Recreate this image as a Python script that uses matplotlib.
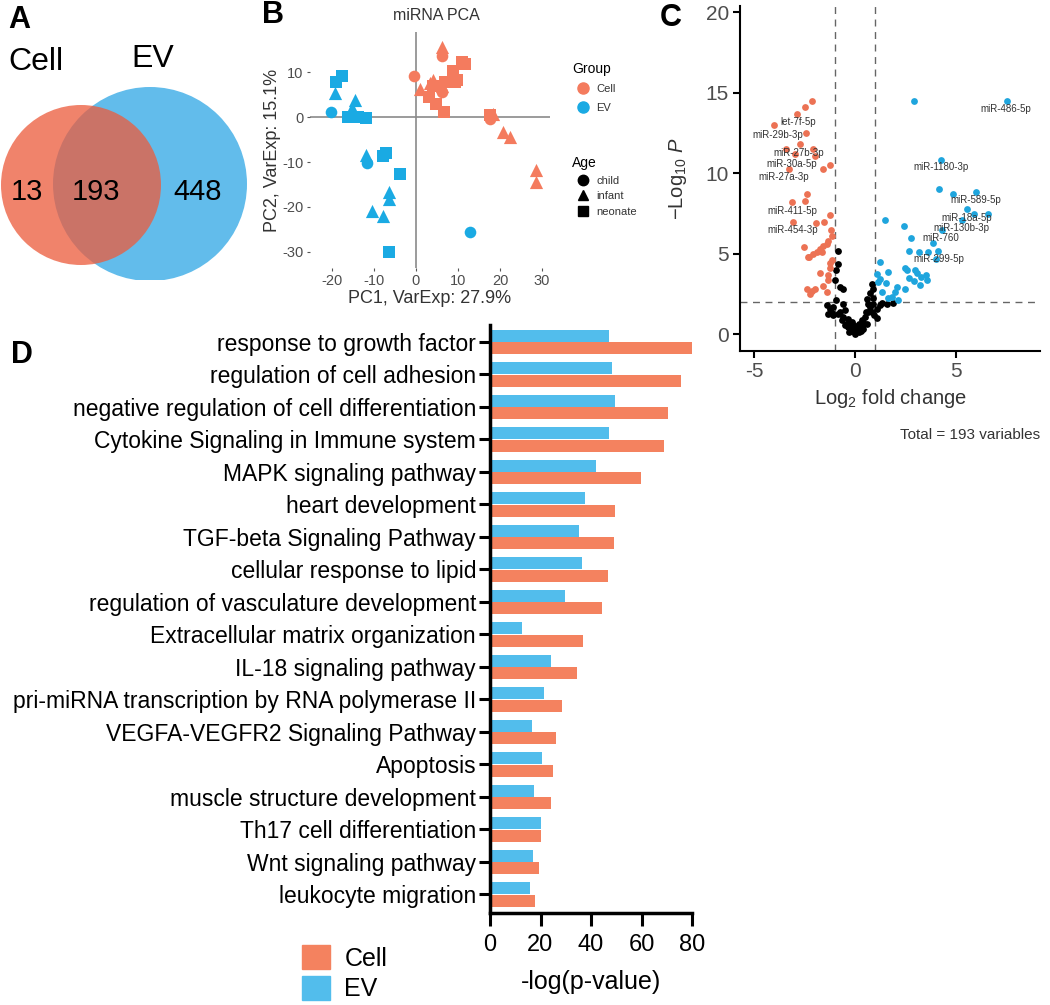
import matplotlib
matplotlib.use("Agg")
import matplotlib.pyplot as plt
from matplotlib.patches import Circle, Patch
from matplotlib.lines import Line2D
import numpy as np

plt.rcParams['font.family'] = ['Liberation Sans', 'DejaVu Sans']
plt.rcParams['mathtext.fontset'] = 'custom'
plt.rcParams['mathtext.rm'] = 'Liberation Sans'
plt.rcParams['mathtext.it'] = 'Liberation Sans:italic'
plt.rcParams['axes.unicode_minus'] = False

# ---- data ----
venn_sets = ['Cell', 'EV']
venn_counts = [13, 193, 448]          # cell only, shared, EV only

pca_cell_x = [-0.5, 1.0, 3.3, 6.1, 6.3, 4.1, 8.9, 10.9, 11.7, 9.3, 7.0, 6.3, 3.2,
              4.8, 6.7, 6.3, 8.3, 9.8, 4.0, 17.6, 18.4, 17.6, 20.8, 22.4, 28.6, 28.6]
pca_cell_y = [9.1, 6.4, 7.6, 15.6, 13.6, 8.2, 10.4, 12.3, 11.9, 7.8, 7.8, 5.6, 4.5,
              3.0, 1.1, 6.9, 8.9, 8.2, 6.9, -0.3, 0.8, 0.4, -3.3, -4.4, -11.8, -14.4]
pca_cell_age = ['child', 'infant', 'infant', 'infant', 'child', 'infant', 'neonate',
                'neonate', 'neonate', 'neonate', 'neonate', 'child', 'neonate',
                'neonate', 'neonate', 'infant', 'infant', 'neonate', 'neonate',
                'child', 'infant', 'neonate', 'infant', 'infant', 'infant', 'infant']
pca_ev_x = [-17.5, -18.9, -19.2, -20.3, -14.5, -15.3, -16.1, -13.7, -11.9, -11.8,
            -11.6, -7.1, -7.8, -3.9, -6.3, -6.5, -10.4, -7.8, -6.4, 12.9]
pca_ev_y = [9.1, 7.9, 5.3, 1.2, 3.8, 2.0, 0.0, 0.0, -0.2, -8.4,
            -10.1, -8.0, -8.7, -12.7, -16.6, -18.3, -20.8, -22.0, -30.1, -25.5]
pca_ev_age = ['neonate', 'neonate', 'infant', 'child', 'infant', 'infant', 'neonate',
              'neonate', 'neonate', 'infant', 'child', 'neonate', 'neonate', 'neonate',
              'infant', 'infant', 'infant', 'infant', 'neonate', 'child']

volc_down_x = [-2.14, -2.48, -2.86, -4.04, -2.44, -3.41, -2.75, -2.09, -3.00, -1.98, -3.27,
               -1.57, -1.24, -2.36, -2.48, -3.14, -1.26, -3.06, -1.94, -1.53, -1.17, -2.51,
               -2.28, -2.06, -1.73, -1.57, -1.40, -1.32, -1.15, -1.90, -1.65, -1.24, -1.16,
               -1.73, -1.32, -2.39, -2.15, -1.57, -1.37, -2.23, -1.98, -1.24, -2.34, -1.35]
volc_down_y = [14.5, 14.1, 13.7, 13.0, 12.5, 11.5, 11.8, 11.5, 11.2, 11.1, 10.3,
               10.3, 10.5, 8.7, 8.3, 8.2, 7.4, 7.0, 6.9, 7.0, 6.5, 5.4,
               4.8, 5.0, 5.3, 5.5, 5.6, 5.8, 6.1, 5.1, 5.1, 4.4, 4.6,
               3.8, 3.7, 2.8, 2.7, 3.0, 2.6, 2.5, 2.8, 4.1, 4.8, 3.4]
volc_up_x = [2.94, 7.51, 4.26, 4.14, 4.83, 5.99, 5.53, 5.89, 6.60, 5.28, 4.29, 3.85, 1.48,
             2.44, 2.77, 2.69, 3.17, 3.63, 4.12, 4.00, 1.23, 1.65, 1.23, 1.55, 2.49, 2.69,
             2.92, 3.05, 3.25, 3.50, 3.22, 3.58, 2.06, 2.45, 1.65, 1.16, 2.97, 2.56, 1.98,
             2.15, 1.07, 1.32, 1.85]
volc_up_y = [14.5, 14.5, 10.85, 9.0, 8.7, 8.85, 7.76, 7.5, 7.46, 7.08, 6.5, 5.7, 7.1,
             6.7, 5.96, 5.2, 5.13, 5.13, 5.2, 4.66, 4.46, 3.9, 3.45, 3.2, 4.1, 3.5,
             3.3, 3.8, 3.55, 3.7, 3.04, 3.39, 2.95, 2.8, 2.25, 3.25, 3.98, 3.98, 2.6,
             2.12, 3.77, 2.6, 2.3]
volc_ns_x = [-0.87, -0.87, -0.94, -0.99, -0.74, -0.58, 0.83, 0.87, 0.74, 0.58, 0.91, 1.32,
             1.57, 1.90, -1.40, -1.24, -1.32, -1.07, -0.83, -0.66, -0.50, -0.41, -0.33,
             -0.17, 0.00, 0.17, 0.33, 0.41, 0.50, 0.66, 0.74, 1.07, 1.24, 0.58, 0.25,
             -0.25, -0.58, -0.74, -1.07, -0.50, 0.08, -0.08, 0.33, 0.83, 0.91, 0.54,
             -0.33, -0.17, 0.17, 0.41, -0.95, -1.15, 0.95, 1.10, -0.60, 0.62, 0.10,
             -0.10, 0.28, -0.28]
volc_ns_y = [5.18, 4.39, 3.98, 3.35, 2.94, 2.84, 3.11, 2.84, 2.57, 2.22, 2.28, 1.95,
             1.86, 1.95, 1.80, 1.59, 1.28, 1.18, 1.28, 0.87, 1.49, 0.66, 0.46,
             0.21, 0.04, 0.14, 0.46, 0.77, 1.08, 1.39, 1.70, 1.59, 1.80, 0.66, 0.35,
             0.35, 1.08, 1.39, 1.70, 0.56, 0.25, 0.46, 0.87, 1.39, 1.86, 1.39,
             0.97, 0.77, 0.66, 0.35, 2.10, 1.30, 1.20, 1.00, 1.90, 1.85, 0.50,
             0.60, 0.20, 0.15]
volc_labels = ['miR-486-5p', 'let-7f-5p', 'miR-29b-3p', 'miR-27b-3p', 'miR-30a-5p',
               'miR-27a-3p', 'miR-411-5p', 'miR-454-3p', 'miR-1180-3p', 'miR-589-5p',
               'miR-18a-5p', 'miR-130b-3p', 'miR-760', 'miR-299-5p']
volc_label_x = [7.48, -2.82, -3.81, -2.77, -3.12, -3.51, -3.12, -3.07, 4.26, 5.99,
                5.54, 5.25, 4.26, 4.16]
volc_label_y = [14.0, 13.2, 12.4, 11.25, 10.56, 9.8, 7.64, 6.46, 10.37, 8.32,
                7.2, 6.58, 5.96, 4.66]

terms = ['response to growth factor', 'regulation of cell adhesion',
         'negative regulation of cell differentiation', 'Cytokine Signaling in Immune system',
         'MAPK signaling pathway', 'heart development', 'TGF-beta Signaling Pathway',
         'cellular response to lipid', 'regulation of vasculature development',
         'Extracellular matrix organization', 'IL-18 signaling pathway',
         'pri-miRNA transcription by RNA polymerase II', 'VEGFA-VEGFR2 Signaling Pathway',
         'Apoptosis', 'muscle structure development', 'Th17 cell differentiation',
         'Wnt signaling pathway', 'leukocyte migration']
cell_logp = [80, 75.8, 70.3, 68.8, 59.9, 49.4, 49.0, 46.8, 44.5, 36.7, 34.5, 28.7,
             26.3, 24.9, 24.0, 20.0, 19.6, 17.8]
ev_logp = [47.2, 48.5, 49.6, 47.2, 41.8, 37.8, 35.2, 36.3, 29.6, 12.7, 24.0, 21.2,
           16.7, 20.5, 17.6, 20.0, 17.2, 15.8]

# ---- styles ----
CELL_C = '#F4825F'
EV_C = '#52BDEC'
PCA_CELL = '#F47B5E'
PCA_EV = '#1AAAE3'
VOLC_RED = '#EC7254'
VOLC_BLUE = '#1FA5DD'
GREY_TXT = '#4D4D4D'
age_marker = {'child': 'o', 'infant': '^', 'neonate': 's'}

W, H = 1050, 1005
fig = plt.figure(figsize=(W / 100, H / 100), dpi=100)


def box(x0, y0, x1, y1):
    return [x0 / W, 1 - y1 / H, (x1 - x0) / W, (y1 - y0) / H]


def ftext(x, y, s, **kw):
    kw.setdefault('ha', 'center')
    kw.setdefault('va', 'center')
    fig.text(x / W, 1 - y / H, s, **kw)


# ---- A: venn ----
axA = fig.add_axes(box(0, 0, 260, 280))
axA.set_xlim(0, 260)
axA.set_ylim(280, 0)
axA.axis('off')
axA.add_patch(Circle((150, 184), 97, color='#62BCEB', lw=0))
axA.add_patch(Circle((81, 185), 80, color='#EC5C3D', alpha=0.76, lw=0))
for xx, n in zip([27, 96, 198], venn_counts):
    axA.text(xx, 192, str(n), fontsize=21, ha='center', va='center')
axA.text(36, 62, venn_sets[0], fontsize=23, ha='center', va='center')
axA.text(153, 59, venn_sets[1], fontsize=23, ha='center', va='center')

# ---- B: PCA ----
axB = fig.add_axes(box(310, 32, 550, 268))
for sp in axB.spines.values():
    sp.set_visible(False)
axB.axhline(0, color='#8a8a8a', lw=1.2, zorder=1)
axB.axvline(0, color='#8a8a8a', lw=1.2, zorder=1)
for xs, ys, ages, col in [(pca_cell_x, pca_cell_y, pca_cell_age, PCA_CELL),
                          (pca_ev_x, pca_ev_y, pca_ev_age, PCA_EV)]:
    for age, mk in age_marker.items():
        px = [x for x, a in zip(xs, ages) if a == age]
        py = [y for y, a in zip(ys, ages) if a == age]
        axB.scatter(px, py, marker=mk, s=90 if mk == '^' else 70, color=col,
                    lw=0, zorder=3)
axB.set_xlim(-25.2, 31.9)
axB.set_ylim(-33.6, 19.0)
axB.set_xticks([-20, -10, 0, 10, 20, 30])
axB.set_yticks([-30, -20, -10, 0, 10])
axB.tick_params(labelsize=10.5, labelcolor=GREY_TXT, color='#555555',
                length=2.5, width=0.8, pad=2)
axB.set_xlabel('PC1, VarExp: 27.9%', fontsize=13, color='#333333', labelpad=1)
axB.set_ylabel('PC2, VarExp: 15.1%', fontsize=13, color='#333333', labelpad=1)
ftext(436, 15, 'miRNA PCA', fontsize=11.5, color='#333333')

grp_handles = [Line2D([], [], ls='', marker='o', ms=8, color=PCA_CELL),
               Line2D([], [], ls='', marker='o', ms=8, color=PCA_EV)]
fig.legend(grp_handles, ['Cell', 'EV'], title='Group', loc='upper left',
           bbox_to_anchor=(562 / W, 1 - 52 / H), frameon=False, fontsize=8,
           title_fontsize=10, alignment='left', handletextpad=0.2,
           labelspacing=0.75, labelcolor='#333333')
age_handles = [Line2D([], [], ls='', marker=m, ms=7.5, color='black')
               for m in age_marker.values()]
fig.legend(age_handles, list(age_marker.keys()), title='Age', loc='upper left',
           bbox_to_anchor=(562 / W, 1 - 146 / H), frameon=False, fontsize=8,
           title_fontsize=10, alignment='left', handletextpad=0.2,
           labelspacing=0.5, labelcolor='#333333')

# ---- C: volcano ----
axC = fig.add_axes(box(740, 6, 1040, 351))
axC.spines['top'].set_visible(False)
axC.spines['right'].set_visible(False)
for s in ['left', 'bottom']:
    axC.spines[s].set_linewidth(1.5)
axC.scatter(volc_ns_x, volc_ns_y, s=24, color='black', lw=0, zorder=3)
axC.scatter(volc_down_x, volc_down_y, s=24, color=VOLC_RED, lw=0, zorder=3)
axC.scatter(volc_up_x, volc_up_y, s=24, color=VOLC_BLUE, lw=0, zorder=3)
for v in (-1, 1):
    axC.axvline(v, color='#666666', ls=(0, (5, 4)), lw=1, zorder=2)
axC.axhline(2, color='#666666', ls=(0, (5, 4)), lw=1, zorder=2)
for lab, lx, ly in zip(volc_labels, volc_label_x, volc_label_y):
    axC.text(lx, ly, lab, fontsize=7, color='#333333', ha='center', va='center',
             zorder=4)
axC.set_xlim(-5.7, 9.16)
axC.set_ylim(-1.04, 20.4)
axC.set_xticks([-5, 0, 5])
axC.set_yticks([0, 5, 10, 15, 20])
axC.tick_params(labelsize=15, labelcolor=GREY_TXT, length=5, width=1.5, pad=3)
axC.set_xlabel(r'$\mathrm{Log}_{2}$ fold change', fontsize=14.5, color='#333333',
               labelpad=4)
axC.set_ylabel(r'$-\mathrm{Log}_{10}\ \mathit{P}$', fontsize=14.5, color='#333333',
               labelpad=12)
ftext(1040, 435, 'Total = 193 variables', fontsize=11, color='#333333', ha='right')

# ---- D: bars ----
axD = fig.add_axes(box(490, 325, 692, 913))
pos = np.arange(len(terms))
axD.barh(pos - 0.19, ev_logp, height=0.37, color=EV_C)
axD.barh(pos + 0.19, cell_logp, height=0.37, color=CELL_C)
axD.set_ylim(17.57, -0.52)
axD.set_xlim(0, 80)
axD.set_yticks(pos)
axD.set_yticklabels(terms, fontsize=16.5)
axD.set_xticks([0, 20, 40, 60, 80])
axD.tick_params(axis='x', labelsize=17, length=9, width=2.2, pad=6)
axD.tick_params(axis='y', length=8, width=2.2, pad=2)
axD.spines['top'].set_visible(False)
axD.spines['right'].set_visible(False)
for s in ['left', 'bottom']:
    axD.spines[s].set_linewidth(2.5)
axD.set_xlabel('-log(p-value)', fontsize=18, labelpad=10)
fig.legend([Patch(color=CELL_C), Patch(color=EV_C)], ['Cell', 'EV'],
           loc='upper left', bbox_to_anchor=(292 / W, 1 - 935 / H), frameon=False,
           fontsize=18, handlelength=1.1, handleheight=1.1, handletextpad=0.6,
           labelspacing=0.2, borderaxespad=0)

# panel letters
for lx, ly, lab in [(19, 20, 'A'), (273, 15, 'B'), (671, 18, 'C'), (22, 355, 'D')]:
    ftext(lx, ly, lab, fontsize=22, fontweight='bold')

fig.savefig('out.png', dpi=100)
